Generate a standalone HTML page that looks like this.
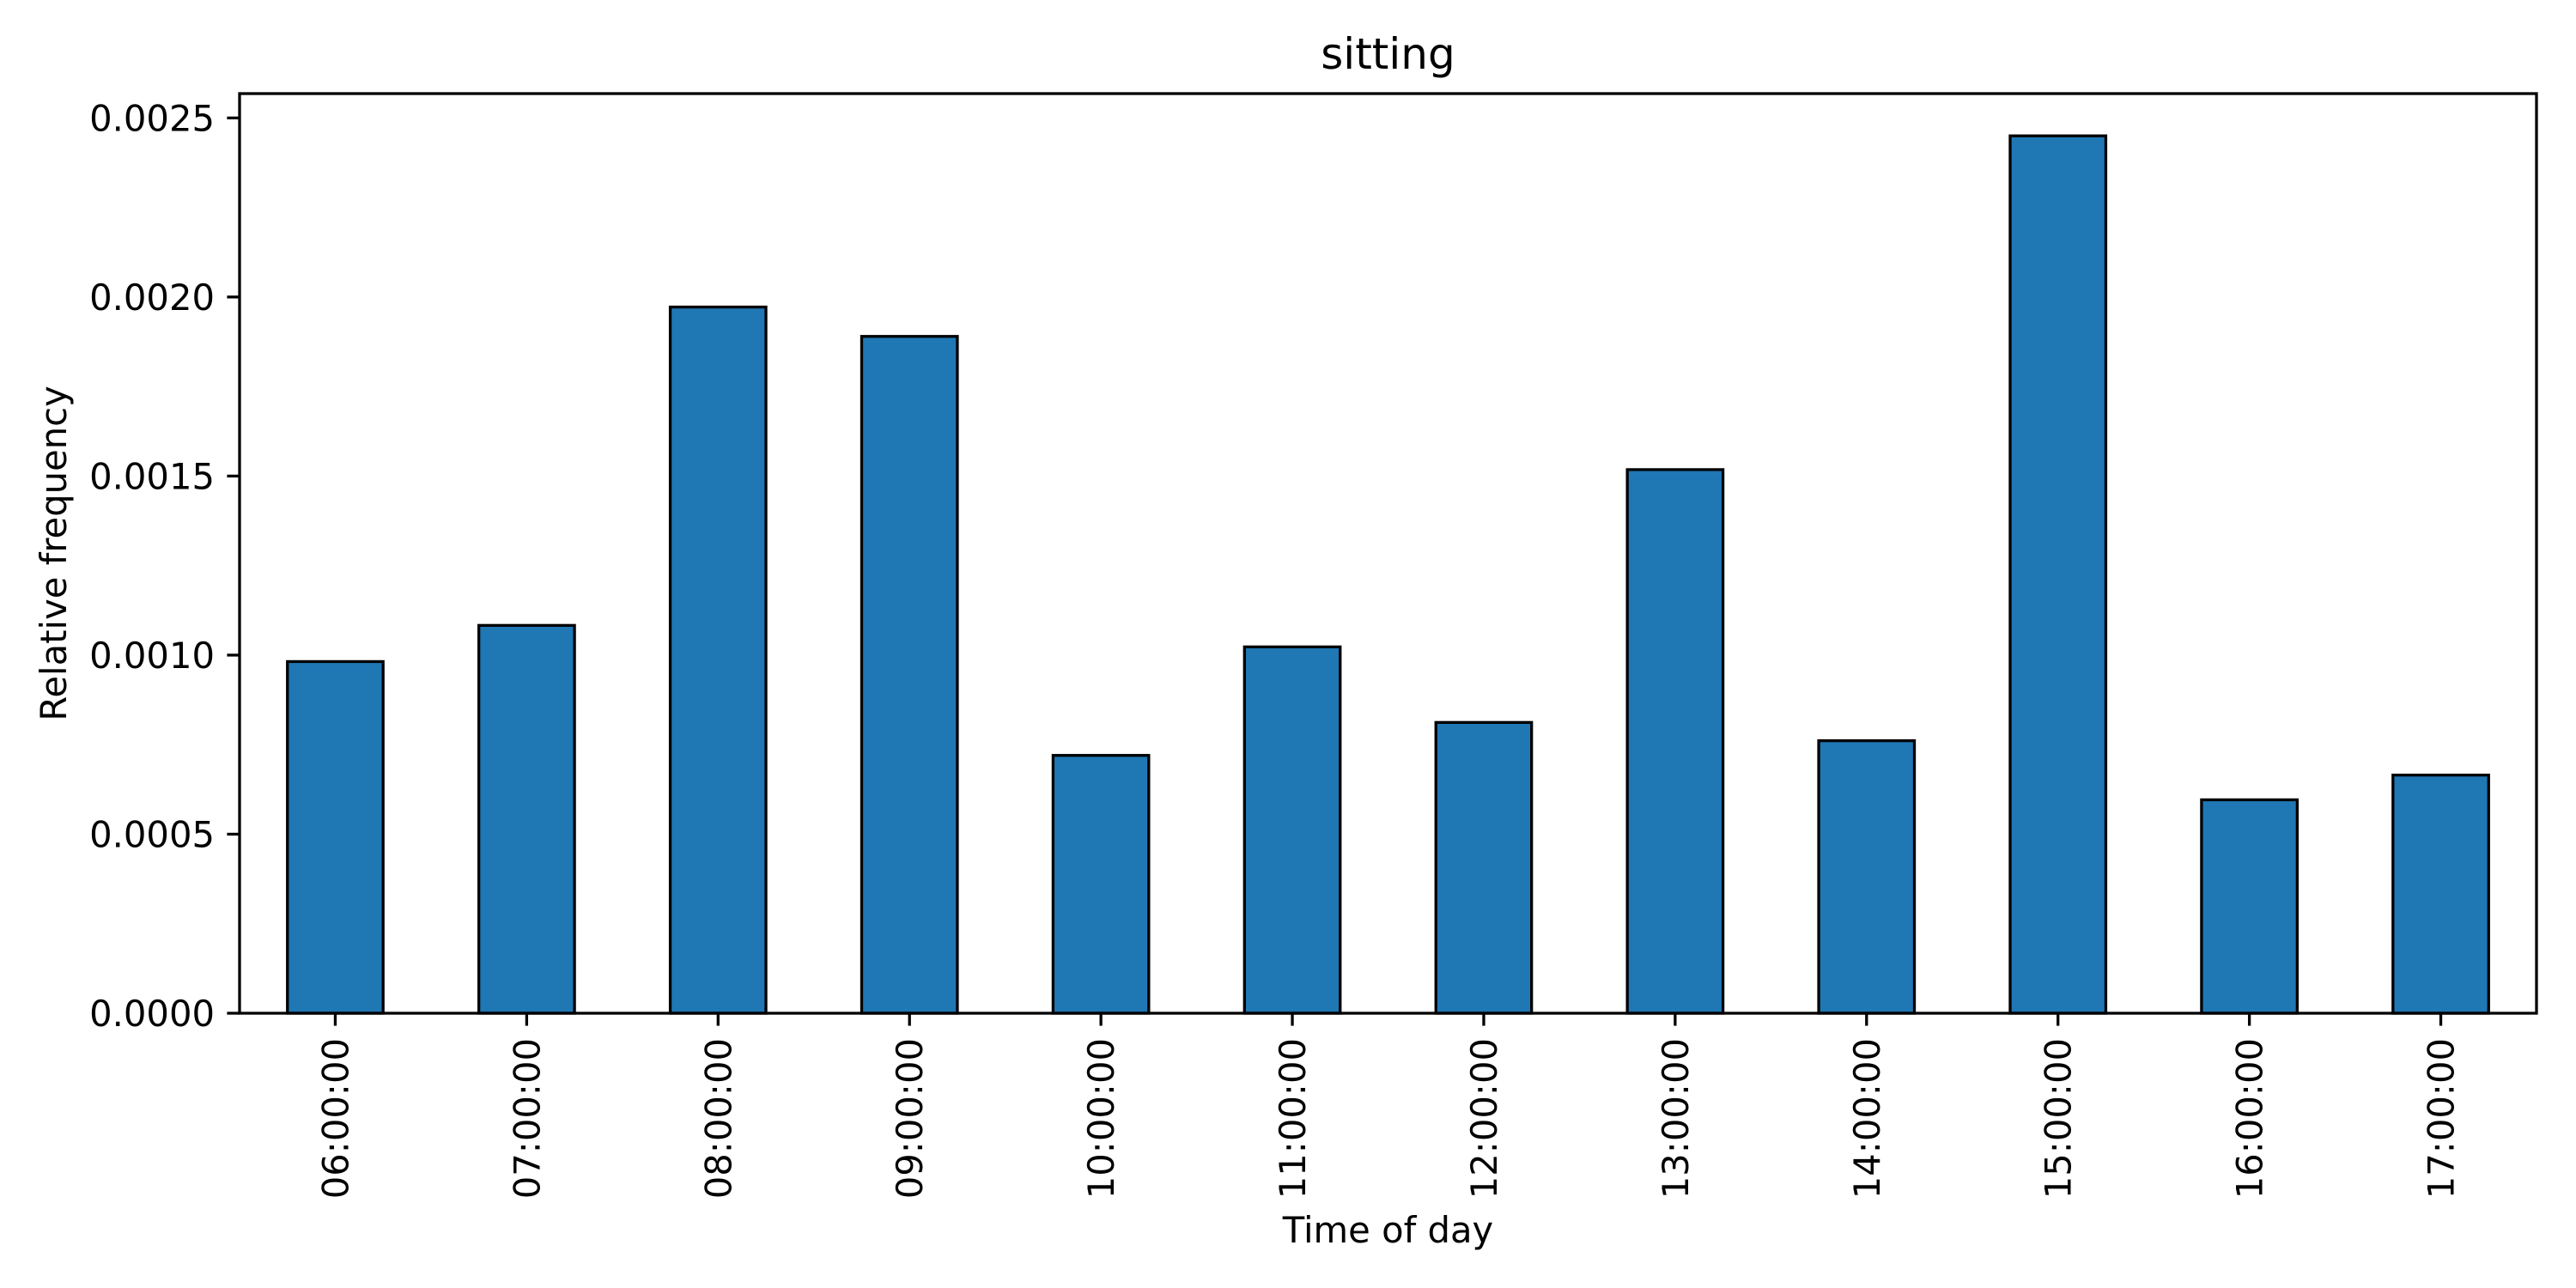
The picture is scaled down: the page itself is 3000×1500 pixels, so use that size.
<!DOCTYPE html>
<html><head><meta charset="utf-8"><style>
html,body{margin:0;padding:0;background:#fff}
svg{display:block;font-family:"DejaVu Sans","Liberation Sans",sans-serif}
</style></head><body>
<svg id="chart" width="3000" height="1500" viewBox="0 0 3000 1500" xmlns="http://www.w3.org/2000/svg">
<rect x="0" y="0" width="3000" height="1500" fill="#fff"/>
<g id="bars"></g>
<g id="yticks"></g>
<g id="xticks"></g>
<rect x="279" y="109" width="2675" height="1071" fill="none" stroke="#000" stroke-width="3.3"/>
<text x="1616.5" y="80" font-size="50" text-anchor="middle">sitting</text>
<text x="1616.5" y="1447" font-size="41.7" text-anchor="middle">Time of day</text>
<text transform="translate(77,644.5) rotate(-90)" font-size="41.7" text-anchor="middle">Relative frequency</text>
</svg>
<script>
const categories = ["06:00:00","07:00:00","08:00:00","09:00:00","10:00:00","11:00:00","12:00:00","13:00:00","14:00:00","15:00:00","16:00:00","17:00:00"];
const values = [0.000982,0.001083,0.001972,0.00189,0.00072,0.001023,0.000812,0.001518,0.000761,0.00245,0.000596,0.000665];
const yTicks = [0,0.0005,0.001,0.0015,0.002,0.0025];
const yTickLabels = ["0.0000","0.0005","0.0010","0.0015","0.0020","0.0025"];

const NS = "http://www.w3.org/2000/svg";
const L = 279, R = 2954, T = 109, B = 1180;
const yMax = 0.002568;
const step = (R - L) / categories.length;
function xScale(i){ return L + step * (i + 0.5); }
function yScale(v){ return B - (v / yMax) * (B - T); }

const bars = document.getElementById('bars');
values.forEach((v, i) => {
  const r = document.createElementNS(NS, 'rect');
  const w = step * 0.5;
  r.setAttribute('x', xScale(i) - w / 2);
  r.setAttribute('y', yScale(v));
  r.setAttribute('width', w);
  r.setAttribute('height', B - yScale(v));
  r.setAttribute('fill', '#1f77b4');
  r.setAttribute('stroke', '#000');
  r.setAttribute('stroke-width', '3.3');
  
  
  bars.appendChild(r);
});

const yg = document.getElementById('yticks');
yTicks.forEach((t, i) => {
  const y = yScale(t);
  const ln = document.createElementNS(NS, 'line');
  ln.setAttribute('x1', L - 14.6); ln.setAttribute('x2', L);
  ln.setAttribute('y1', y); ln.setAttribute('y2', y);
  ln.setAttribute('stroke', '#000'); ln.setAttribute('stroke-width', '3.3');
  
  
  yg.appendChild(ln);
  const tx = document.createElementNS(NS, 'text');
  tx.setAttribute('x', L - 29);
  tx.setAttribute('y', y + 15);
  tx.setAttribute('font-size', '41.7');
  tx.setAttribute('text-anchor', 'end');
  tx.textContent = yTickLabels[i];
  
  
  yg.appendChild(tx);
});

const xg = document.getElementById('xticks');
categories.forEach((c, i) => {
  const x = xScale(i);
  const ln = document.createElementNS(NS, 'line');
  ln.setAttribute('x1', x); ln.setAttribute('x2', x);
  ln.setAttribute('y1', B); ln.setAttribute('y2', B + 14.6);
  ln.setAttribute('stroke', '#000'); ln.setAttribute('stroke-width', '3.3');
  
  
  xg.appendChild(ln);
  const tx = document.createElementNS(NS, 'text');
  tx.setAttribute('transform', 'translate(' + (x + 15) + ',' + (B + 29) + ') rotate(-90)');
  tx.setAttribute('font-size', '41.7');
  tx.setAttribute('text-anchor', 'end');
  tx.textContent = c;
  
  
  xg.appendChild(tx);
});
</script>
</body></html>
